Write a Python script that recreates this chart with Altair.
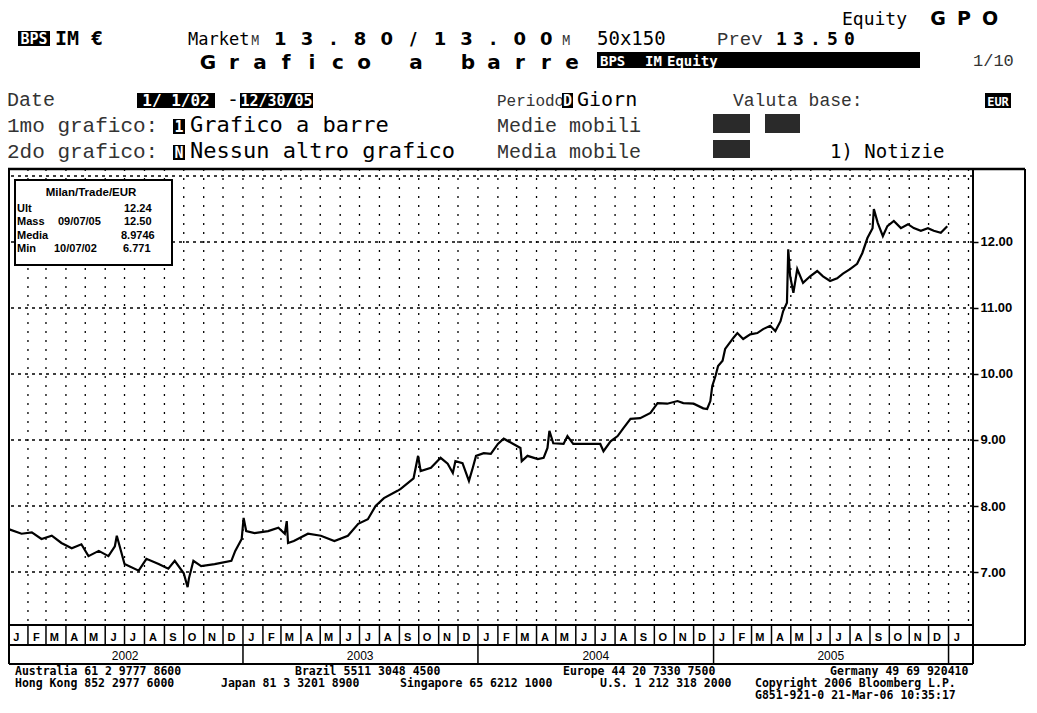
import altair as alt
import pandas as pd

# ---------------- data ----------------
dates_2002 = ["2002-01-02","2002-01-22","2002-02-07","2002-02-22","2002-03-10","2002-03-25","2002-04-10",
              "2002-04-25","2002-05-06","2002-05-22","2002-06-06","2002-06-16","2002-06-19","2002-07-01",
              "2002-07-23","2002-08-04","2002-08-23","2002-09-07","2002-09-17","2002-10-01","2002-10-07",
              "2002-10-09","2002-10-16","2002-10-28","2002-11-18","2002-12-14","2002-12-20","2002-12-30"]
price_2002 = [7.65,7.58,7.60,7.50,7.55,7.44,7.36,7.42,7.24,7.32,7.24,7.39,7.55,7.12,7.02,7.20,7.12,7.05,
              7.17,6.98,6.77,6.90,7.17,7.09,7.12,7.17,7.32,7.50]
dates_2003 = ["2003-01-02","2003-01-06","2003-01-19","2003-02-09","2003-02-25","2003-03-07","2003-03-10",
              "2003-03-12","2003-03-21","2003-04-12","2003-05-02","2003-05-23","2003-06-13","2003-06-29",
              "2003-07-14","2003-07-26","2003-08-08","2003-08-29","2003-09-03","2003-09-23","2003-09-30",
              "2003-10-04","2003-10-20","2003-11-04","2003-11-15","2003-11-23","2003-11-27","2003-12-08",
              "2003-12-18","2003-12-24","2003-12-29"]
price_2003 = [7.82,7.62,7.59,7.62,7.67,7.58,7.77,7.44,7.47,7.58,7.55,7.47,7.55,7.73,7.80,8.00,8.12,8.23,
              8.26,8.42,8.76,8.53,8.58,8.73,8.64,8.50,8.68,8.65,8.38,8.58,8.76]
dates_2004 = ["2004-01-10","2004-01-21","2004-02-01","2004-02-10","2004-02-25","2004-03-07","2004-03-09",
              "2004-03-18","2004-04-03","2004-04-12","2004-04-18","2004-04-21","2004-04-27","2004-05-13",
              "2004-05-19","2004-05-28","2004-06-19","2004-07-09","2004-07-14","2004-07-25","2004-08-05",
              "2004-08-14","2004-08-25","2004-09-09","2004-09-25","2004-10-06","2004-10-21","2004-11-06",
              "2004-11-15","2004-12-01","2004-12-16","2004-12-22","2004-12-27","2004-12-30"]
price_2004 = [8.80,8.79,8.94,9.02,8.94,8.88,8.68,8.76,8.71,8.73,8.88,9.14,8.95,8.94,9.06,8.94,8.94,8.94,
              8.83,8.98,9.06,9.18,9.32,9.33,9.41,9.56,9.55,9.59,9.56,9.55,9.48,9.47,9.59,9.82]
dates_2005 = ["2005-01-04","2005-01-08","2005-01-15","2005-01-19","2005-02-01","2005-02-07","2005-02-16",
              "2005-02-27","2005-03-10","2005-03-19","2005-03-30","2005-04-07","2005-04-15","2005-04-19",
              "2005-04-25","2005-04-27","2005-04-30","2005-05-05","2005-05-11","2005-05-20","2005-05-31",
              "2005-06-11","2005-06-20","2005-07-01","2005-07-12","2005-07-21","2005-08-01","2005-08-12",
              "2005-08-20","2005-08-28","2005-09-05","2005-09-07","2005-09-13","2005-09-21","2005-09-28",
              "2005-10-08","2005-10-19","2005-10-30","2005-11-08","2005-11-19","2005-11-30","2005-12-09",
              "2005-12-20","2005-12-30"]
price_2005 = [9.97,10.12,10.20,10.38,10.55,10.62,10.53,10.60,10.62,10.68,10.73,10.65,10.80,10.95,11.08,
              11.89,11.48,11.23,11.59,11.38,11.48,11.56,11.48,11.41,11.45,11.52,11.59,11.67,11.83,12.06,
              12.21,12.50,12.29,12.09,12.24,12.32,12.21,12.27,12.21,12.17,12.21,12.17,12.14,12.24]

y_tick_values = [7, 8, 9, 10, 11, 12]
grid_levels = [7, 8, 9, 10, 11, 12, 13]
month_letters = ["J", "F", "M", "A", "M", "J", "J", "A", "S", "O", "N", "D"]
year_labels = ["2002", "2003", "2004", "2005"]

legend_title = "Milan/Trade/EUR"
legend_rows = [("Ult", "", "12.24"), ("Mass", "09/07/05", "12.50"),
               ("Media", "", "8.9746"), ("Min", "10/07/02", "6.771")]

footer_l1 = ["Australia 61 2 9777 8600", "Brazil 5511 3048 4500", "Europe 44 20 7330 7500",
             "Germany 49 69 920410"]
footer_l2 = ["Hong Kong 852 2977 6000", "Japan 81 3 3201 8900", "Singapore 65 6212 1000",
             "U.S. 1 212 318 2000", "Copyright 2006 Bloomberg L.P."]
footer_l3 = "G851-921-0 21-Mar-06 10:35:17"

# ---------------- geometry ----------------
W, H = 965, 456
OX, OY = 8, 169  # page position of plot origin


def rx(x):
    return x - OX


def ry(y):
    return y - OY


one = pd.DataFrame({"k": [0]})

xscale = alt.Scale(type="utc", nice=False,
                   domain=[alt.DateTime(year=2002, month=1, date=1, utc=True),
                           alt.DateTime(year=2006, month=2, date=8, utc=True)])
yscale = alt.Scale(domain=[6.197, 13.106], nice=False, zero=False)
yaxis = alt.Axis(orient="right", values=y_tick_values, format=".2f", grid=False, domain=False,
                 ticks=True, tickSize=5, tickColor="black", tickWidth=1.5, labelFont="Liberation Sans",
                 labelFontSize=13, labelFontWeight="bold", labelColor="black", labelPadding=2,
                 title=None)


def txt(s, x, y, size, font="DejaVu Sans Mono", weight="normal", color="black", align="left"):
    return alt.Chart(one).mark_text(text=s, font=font, fontSize=size, fontWeight=weight, color=color,
                                    align=align, baseline="alphabetic").encode(
        x=alt.value(rx(x)), y=alt.value(ry(y)))


def wide(s, x0, pitch, y, size, font="DejaVu Sans", weight="bold", color="black"):
    out = []
    for i, ch in enumerate(s):
        if ch == " ":
            continue
        out.append(txt(ch, x0 + pitch * i + pitch / 2.0, y, size, font, weight, color, "center"))
    return out


def rect(x1, y1, x2, y2, fill="black", stroke=None, sw=0):
    kw = dict(fill=fill)
    if stroke:
        kw.update(stroke=stroke, strokeWidth=sw)
    return alt.Chart(one).mark_rect(**kw).encode(
        x=alt.value(rx(x1)), x2=alt.value(rx(x2)), y=alt.value(ry(y1)), y2=alt.value(ry(y2)))


def line(x1, y1, x2, y2, sw=2):
    return alt.Chart(one).mark_rule(color="black", strokeWidth=sw).encode(
        x=alt.value(rx(x1)), x2=alt.value(rx(x2)), y=alt.value(ry(y1)), y2=alt.value(ry(y2)))


fmt = "%Y-%m-%d"
price_df = pd.DataFrame({"date": dates_2002 + dates_2003 + dates_2004 + dates_2005,
                         "price": price_2002 + price_2003 + price_2004 + price_2005})

grid_months = [d.strftime(fmt) for d in pd.date_range("2002-02-01", "2006-02-01", freq="MS")]
mstarts = pd.date_range("2002-01-01", "2006-01-01", freq="MS")
month_df = pd.DataFrame({
    "start": [d.strftime(fmt) for d in mstarts],
    "mid": [(d + pd.Timedelta(days=13)).strftime(fmt) for d in mstarts],
    "letter": [month_letters[d.month - 1] for d in mstarts],
})
year_df = pd.DataFrame({
    "label": year_labels,
    "mid": [f"{y}-07-02" for y in year_labels],
})
year_bounds = pd.DataFrame({"start": ["2003-01-01", "2004-01-01", "2005-01-01", "2006-01-01"]})

layers = []

# grid
layers.append(alt.Chart(pd.DataFrame({"date": grid_months})).mark_rule(
    color="black", strokeWidth=1.3, strokeDash=[2, 7]).encode(
    x=alt.X("date:T", scale=xscale, axis=None)))
layers.append(alt.Chart(pd.DataFrame({"price": grid_levels})).mark_rule(
    color="black", strokeWidth=1.3, strokeDash=[3, 4]).encode(
    y=alt.Y("price:Q", scale=yscale, axis=yaxis)))

# price
layers.append(alt.Chart(price_df).mark_line(color="black", strokeWidth=2.2).encode(
    x=alt.X("date:T", scale=xscale, axis=None),
    y=alt.Y("price:Q", scale=yscale, axis=yaxis)))

# month / year strips
layers.append(alt.Chart(month_df).mark_rule(color="black", strokeWidth=1.5).encode(
    x=alt.X("start:T", scale=xscale, axis=None), y=alt.value(H), y2=alt.value(ry(645))))
layers.append(alt.Chart(month_df).mark_text(font="Liberation Sans", fontWeight="bold", fontSize=11,
                                            baseline="alphabetic", color="black").encode(
    x=alt.X("mid:T", scale=xscale, axis=None), y=alt.value(ry(641)), text="letter:N"))
layers.append(alt.Chart(year_bounds).mark_rule(color="black", strokeWidth=1.5).encode(
    x=alt.X("start:T", scale=xscale, axis=None), y=alt.value(ry(645)), y2=alt.value(ry(664))))
layers.append(alt.Chart(year_df).mark_text(font="Liberation Sans", fontSize=12,
                                           baseline="alphabetic", color="black").encode(
    x=alt.X("mid:T", scale=xscale, axis=None), y=alt.value(ry(660)), text="label:N"))

# frames
layers += [
    line(5, 169, 1025, 169, 2.5),
    line(9, 169, 9, 664, 2),
    line(973, 169, 973, 664, 2),
    line(1025, 169, 1025, 645, 2),
    line(9, 625, 973, 625, 2),
    line(9, 645, 1025, 645, 2),
    line(9, 664, 973, 664, 2),
]

# legend box
layers.append(rect(15, 180, 172, 265, fill="white", stroke="black", sw=2))
layers.append(txt(legend_title, 91, 196, 11.5, "Liberation Sans", "bold", align="center"))
row_base = [212, 225, 239, 252]
date_x = [0, 58, 0, 54]
val_x = [124, 124, 121, 123]
for (lab, dt, val), yb, dx, vx in zip(legend_rows, row_base, date_x, val_x):
    layers.append(txt(lab, 17, yb, 11, "Liberation Sans", "bold"))
    if dt:
        layers.append(txt(dt, dx, yb, 11, "Liberation Sans", "bold"))
    layers.append(txt(val, vx, yb, 11, "Liberation Sans", "bold"))

# ---------------- header ----------------
thin = "Liberation Mono"
grey = "#333333"
# row A
layers.append(txt("Equity", 842, 25, 18))
layers += wide("GPO", 925, 26, 25, 19)
# row B
layers.append(rect(18, 31, 50, 46))
layers.append(txt("BPS", 34, 44, 15, weight="bold", color="white", align="center"))
layers.append(txt("IM €", 55, 45, 20, weight="bold"))
layers.append(txt("Market", 188, 45, 17))
layers.append(txt("M", 251, 45, 14, thin, color=grey))
layers += wide("13.80/13.00", 267, 26.6, 45, 18)
layers.append(txt("M", 562, 45, 14, thin, color=grey))
layers.append(txt("50x150", 597, 45, 19))
layers.append(txt("Prev", 717, 45, 19, thin, color=grey))
layers += wide("13.50", 773, 17, 45, 18, "DejaVu Sans Mono")
# row C
layers += wide("Grafico a barre", 195, 26, 69, 20)
layers.append(rect(597, 52, 920, 68))
layers.append(txt("BPS", 600, 66, 14, weight="bold", color="white"))
layers.append(txt("IM", 645, 66, 14, weight="bold", color="white"))
layers.append(txt("Equity", 667, 66, 14, weight="bold", color="white"))
layers.append(txt("1/10", 973, 66, 17, thin, color=grey))
# row D
layers.append(txt("Date", 7, 106, 20, thin, color=grey))
layers.append(rect(137, 93, 215, 108))
layers.append(txt("1/ 1/02", 176, 106, 16, weight="bold", color="white", align="center"))
layers.append(txt("-", 227, 106, 20))
layers.append(rect(240, 93, 313, 108))
layers.append(txt("12/30/05", 276.5, 106, 15, weight="bold", color="white", align="center"))
layers.append(txt("Periodo", 497, 106, 16, thin, color=grey))
layers.append(rect(562, 93, 573, 108))
layers.append(txt("D", 567.5, 106, 15, weight="bold", color="white", align="center"))
layers.append(txt("Giorn", 577, 106, 20))
layers.append(txt("Valuta base:", 733, 106, 18, thin, color=grey))
layers.append(rect(985, 93, 1011, 108))
layers.append(txt("EUR", 998, 106, 12, weight="bold", color="white", align="center"))
# row E
layers.append(txt("1mo grafico:", 7, 132, 21, thin, color=grey))
layers.append(rect(173, 119, 185, 134))
layers.append(txt("1", 179, 132, 15, weight="bold", color="white", align="center"))
layers.append(txt("Grafico a barre", 190, 132, 22))
layers.append(txt("Medie mobili", 497, 132, 20, thin, color=grey))
layers.append(rect(713, 114, 750, 133, fill="#2a2a2a"))
layers.append(rect(765, 114, 800, 133, fill="#2a2a2a"))
# row F
layers.append(txt("2do grafico:", 7, 158, 21, thin, color=grey))
layers.append(rect(173, 145, 185, 160))
layers.append(txt("N", 179, 158, 15, weight="bold", color="white", align="center"))
layers.append(txt("Nessun altro grafico", 190, 158, 22))
layers.append(txt("Media mobile", 497, 158, 20, thin, color=grey))
layers.append(rect(713, 140, 750, 158, fill="#2a2a2a"))
layers.append(txt("1) Notizie", 830, 158, 19))

# ---------------- footer ----------------
FS = 11.5
for s, x in zip(footer_l1, [15, 295, 563, 830]):
    layers.append(txt(s, x, 675, FS, weight="bold"))
for s, x in zip(footer_l2, [15, 221, 400, 600, 755]):
    layers.append(txt(s, x, 687, FS, weight="bold"))
layers.append(txt(footer_l3, 755, 699, FS, weight="bold"))

chart = alt.layer(*layers).properties(
    width=W, height=H,
    autosize=alt.AutoSizeParams(type="none"),
    padding={"left": 0, "top": OY - 8, "right": 54, "bottom": 77},
    background="white",
).configure_view(stroke=None)

chart.save("out.html", embed_options={"renderer": "svg", "actions": False})
